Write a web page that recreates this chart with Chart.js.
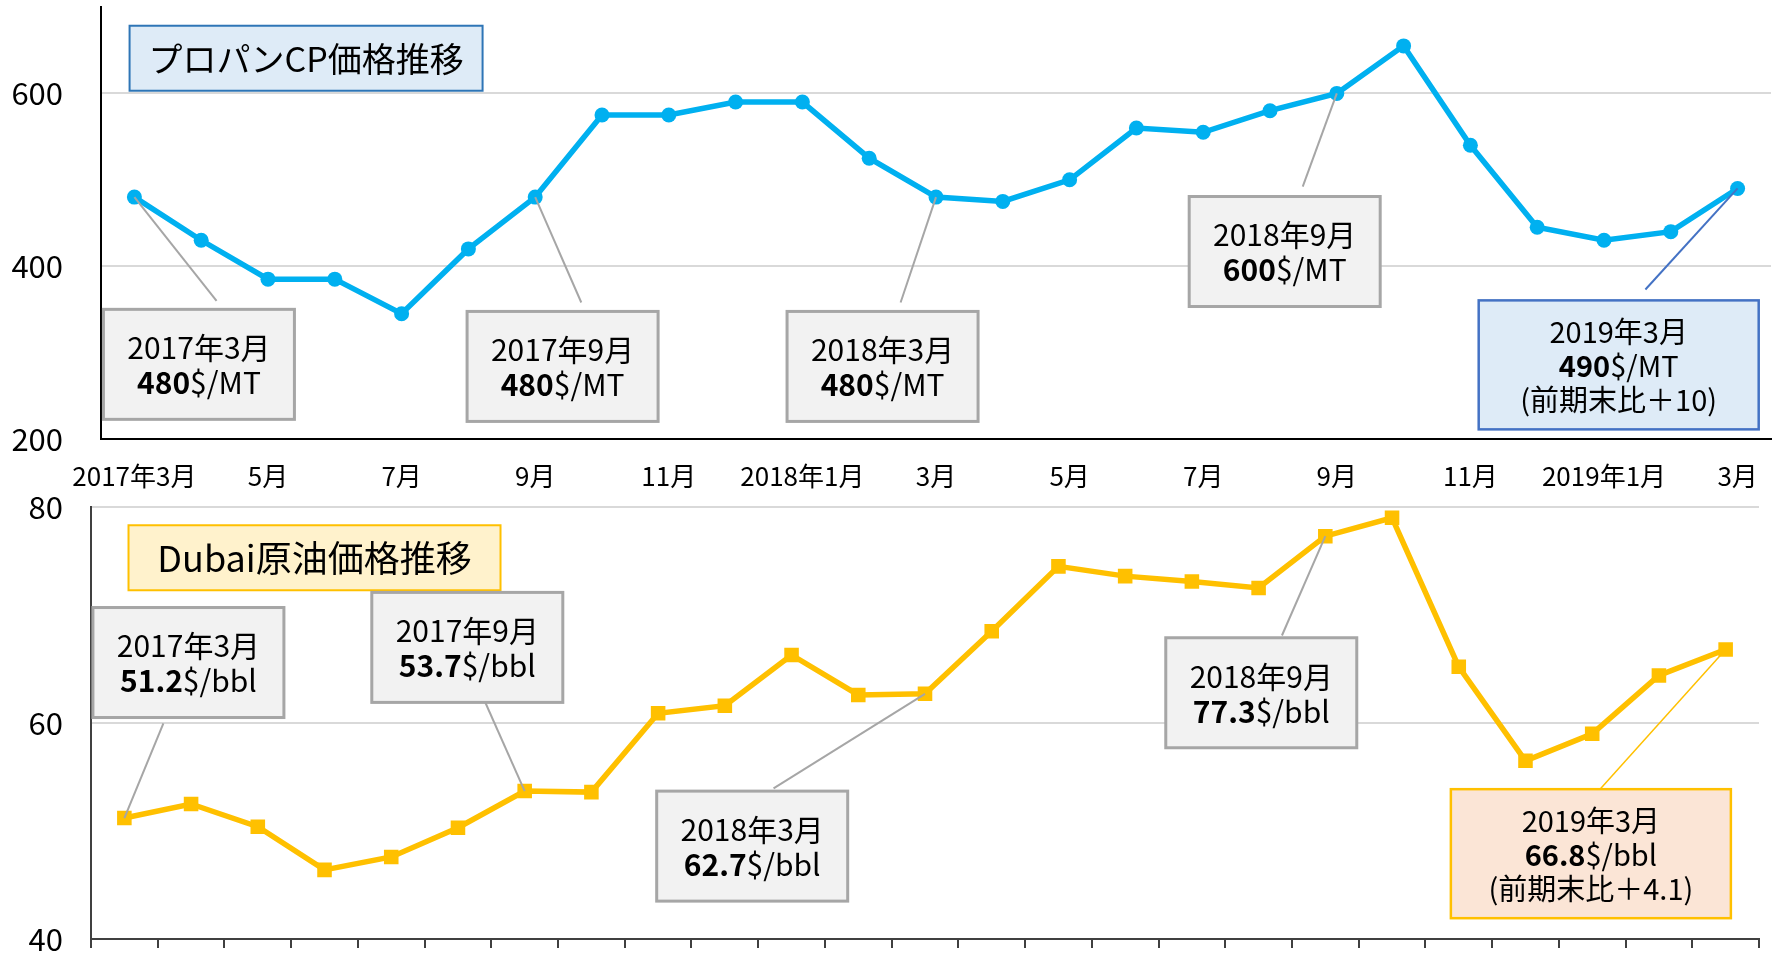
<!DOCTYPE html>
<html>
<head>
<meta charset="utf-8">
<script src="https://cdn.jsdelivr.net/npm/chart.js@4.4.0/dist/chart.umd.min.js"></script>
<style>
  html, body { margin: 0; padding: 0; background: #fff; }
  #wrap { position: relative; width: 1779px; height: 953px; overflow: hidden; }
  #c1 { position: absolute; left: 0; top: 0; }
  #c2 { position: absolute; left: 0; top: 480px; }
</style>
</head>
<body>
<div id="wrap">
  <canvas id="c1" width="1779" height="500"></canvas>
  <canvas id="c2" width="1779" height="473"></canvas>
</div>
<script>
// --- data ---
var months = ['2017年3月','2017年4月','2017年5月','2017年6月','2017年7月','2017年8月','2017年9月',
  '2017年10月','2017年11月','2017年12月','2018年1月','2018年2月','2018年3月','2018年4月','2018年5月',
  '2018年6月','2018年7月','2018年8月','2018年9月','2018年10月','2018年11月','2018年12月',
  '2019年1月','2019年2月','2019年3月'];
var tickLabels = ['2017年3月','','5月','','7月','','9月','','11月','','2018年1月','','3月','',
  '5月','','7月','','9月','','11月','','2019年1月','','3月'];
var propaneCP = [480,430,385,385,345,420,480,575,575,590,590,525,480,475,500,560,555,580,600,655,540,445,430,440,490];
var dubai = [51.2,52.5,50.4,46.4,47.6,50.3,53.7,53.6,60.9,61.6,66.3,62.6,62.7,68.5,74.5,73.6,73.1,72.5,77.3,79.0,65.2,56.5,59.0,64.4,66.8];
var propaneTicks = [200,400,600];
var dubaiTicks = [40,60,80];

var FONT = '"Noto Sans CJK JP", "Noto Sans", sans-serif';
Chart.defaults.font.family = FONT;
Chart.defaults.color = '#000';

// callout helpers
function dateLine(i) { return [{t: months[i]}]; }
function valLine(v, unit) { return [{t: String(v), b: true}, {t: unit}]; }
function grayBox(x, y, pt, tail, lines) {
  return {x: x, y: y, w: 191, h: 110, fill: '#F2F2F2', border: '#A6A6A6', bw: 3,
    size: 30, lh: 35, point: pt, tail: tail, leader: '#A6A6A6', lw: 2, lines: lines};
}

var topCallouts = [
  {x: 2.57, y: 640.7, w: 353, h: 65, fill: '#DEEBF7', border: '#2E75B6', bw: 2, size: 34, lh: 40,
    lines: [[{t: 'プロパンCP価格推移'}]]},
  grayBox(0.966, 286.4, 0, [1.23, 360], [dateLine(0), valLine(propaneCP[0], '$/MT')]),
  grayBox(6.41, 284, 6, [6.69, 358], [dateLine(6), valLine(propaneCP[6], '$/MT')]),
  grayBox(11.2, 284, 12, [11.47, 358], [dateLine(12), valLine(propaneCP[12], '$/MT')]),
  grayBox(17.22, 417, 18, [17.49, 492], [dateLine(18), valLine(propaneCP[18], '$/MT')]),
  {x: 22.22, y: 285.8, w: 280, h: 129, fill: '#DEEBF7', border: '#4472C4', bw: 2.5, size: 29, lh: 34,
    point: 24, tail: [22.62, 373], leader: '#4472C4', lw: 2,
    lines: [dateLine(24), valLine(propaneCP[24], '$/MT'),
      [{t: '(前期末比＋' + (propaneCP[24] - propaneCP[12]) + ')'}]]}
];

var bottomCallouts = [
  {x: 2.85, y: 75.3, w: 372, h: 65, fill: '#FFF2CC', border: '#FFC000', bw: 2, size: 36, lh: 40,
    lines: [[{t: 'Dubai原油価格推移'}]]},
  grayBox(0.96, 65.6, 0, [0.585, 59.97], [dateLine(0), valLine(dubai[0].toFixed(1), '$/bbl')]),
  grayBox(5.14, 67.0, 6, [5.41, 61.9], [dateLine(6), valLine(dubai[6].toFixed(1), '$/bbl')]),
  grayBox(9.41, 48.6, 12, [9.73, 53.95], [dateLine(12), valLine(dubai[12].toFixed(1), '$/bbl')]),
  grayBox(17.04, 62.8, 18, [17.35, 68.1], [dateLine(18), valLine(dubai[18].toFixed(1), '$/bbl')]),
  {x: 21.98, y: 47.9, w: 280, h: 129, fill: '#FBE5D6', border: '#FFC000', bw: 2.5, size: 29, lh: 34,
    point: 24, tail: [22.08, 53.6], leader: '#FFC000', lw: 1.5,
    lines: [dateLine(24), valLine(dubai[24].toFixed(1), '$/bbl'),
      [{t: '(前期末比＋' + (dubai[24] - dubai[12]).toFixed(1) + ')'}]]}
];

// draws the boxes and their leader lines, placed through the chart scales
var callouts = {
  id: 'callouts',
  afterDatasetsDraw: function(chart, args, opts) {
    var ctx = chart.ctx, xs = chart.scales.x, ys = chart.scales.y;
    var meta = chart.getDatasetMeta(0);
    (opts.items || []).forEach(function(it) {
      var cx = xs.getPixelForValue(it.x), cy = ys.getPixelForValue(it.y);
      ctx.save();
      if (it.point != null) {
        var p = meta.data[it.point];
        ctx.strokeStyle = it.leader;
        ctx.lineWidth = it.lw;
        ctx.beginPath();
        ctx.moveTo(xs.getPixelForValue(it.tail[0]), ys.getPixelForValue(it.tail[1]));
        ctx.lineTo(p.x, p.y);
        ctx.stroke();
      }
      ctx.fillStyle = it.fill;
      ctx.fillRect(cx - it.w / 2, cy - it.h / 2, it.w, it.h);
      ctx.strokeStyle = it.border;
      ctx.lineWidth = it.bw;
      ctx.strokeRect(cx - it.w / 2, cy - it.h / 2, it.w, it.h);
      ctx.textBaseline = 'middle';
      ctx.textAlign = 'left';
      ctx.fillStyle = '#000';
      var n = it.lines.length;
      it.lines.forEach(function(line, k) {
        var ty = cy + (k - (n - 1) / 2) * it.lh + 1;
        var total = 0;
        line.forEach(function(s) {
          ctx.font = (s.b ? 'bold ' : '') + it.size + 'px ' + FONT;
          s.w = ctx.measureText(s.t).width;
          total += s.w;
        });
        var x = cx - total / 2;
        line.forEach(function(s) {
          ctx.font = (s.b ? 'bold ' : '') + it.size + 'px ' + FONT;
          ctx.fillText(s.t, x, ty);
          x += s.w;
        });
      });
      ctx.restore();
    });
  }
};

// the tick padding would otherwise be added to the chart area margins
function noPad(s) { s.paddingTop = 0; s.paddingBottom = 0; s.paddingLeft = 0; s.paddingRight = 0; }

// top: propane CP
new Chart(document.getElementById('c1'), {
  type: 'line',
  data: {
    labels: months,
    datasets: [{
      data: propaneCP,
      borderColor: '#00B0F0',
      backgroundColor: '#00B0F0',
      borderWidth: 5.5,
      pointRadius: 7.5,
      pointBorderWidth: 0,
      tension: 0
    }]
  },
  options: {
    responsive: false,
    animation: false,
    events: [],
    layout: {autoPadding: false, padding: {left: 0, right: 8, top: 7, bottom: 0}},
    plugins: {legend: {display: false}, tooltip: {enabled: false}, callouts: {items: topCallouts}},
    scales: {
      x: {
        offset: true,
        grid: {display: false, drawTicks: false},
        border: {display: true, color: '#000', width: 2},
        ticks: {autoSkip: false, maxRotation: 0, padding: 22, font: {size: 26},
          callback: function(v, i) { return tickLabels[i]; }},
        afterFit: function(s) { s.height = 61; noPad(s); }
      },
      y: {
        min: 200, max: 700,
        afterBuildTicks: function(s) { s.ticks = propaneTicks.map(function(v) { return {value: v}; }); },
        grid: {drawTicks: false, lineWidth: 2,
          color: function(c) { return c.tick && c.tick.value === 200 ? 'rgba(0,0,0,0)' : '#D9D9D9'; }},
        border: {color: '#000', width: 2},
        ticks: {padding: 38, font: {size: 31}},
        afterFit: function(s) { s.width = 101; noPad(s); }
      }
    }
  },
  plugins: [callouts]
});

// bottom: Dubai crude
new Chart(document.getElementById('c2'), {
  type: 'line',
  data: {
    labels: months,
    datasets: [{
      data: dubai,
      borderColor: '#FFC000',
      backgroundColor: '#FFC000',
      borderWidth: 5.5,
      pointStyle: 'rect',
      pointRadius: 10.3,
      pointBorderWidth: 0,
      tension: 0
    }]
  },
  options: {
    responsive: false,
    animation: false,
    events: [],
    layout: {autoPadding: false, padding: {left: 0, right: 20, top: 27, bottom: 0}},
    plugins: {legend: {display: false}, tooltip: {enabled: false}, callouts: {items: bottomCallouts}},
    scales: {
      x: {
        offset: true,
        grid: {display: true, offset: true, drawOnChartArea: false, drawTicks: true, tickLength: 9,
          color: '#404040', lineWidth: 2},
        border: {display: true, color: '#404040', width: 2},
        ticks: {autoSkip: false, maxRotation: 0, callback: function() { return ''; }},
        afterFit: function(s) { s.height = 14; noPad(s); }
      },
      y: {
        min: 40, max: 80,
        afterBuildTicks: function(s) { s.ticks = dubaiTicks.map(function(v) { return {value: v}; }); },
        grid: {drawTicks: false, lineWidth: 2,
          color: function(c) { return c.tick && c.tick.value === 40 ? 'rgba(0,0,0,0)' : '#D9D9D9'; }},
        border: {color: '#404040', width: 2},
        ticks: {padding: 28, font: {size: 31}},
        afterFit: function(s) { s.width = 91; noPad(s); }
      }
    }
  },
  plugins: [callouts]
});
</script>
</body>
</html>
